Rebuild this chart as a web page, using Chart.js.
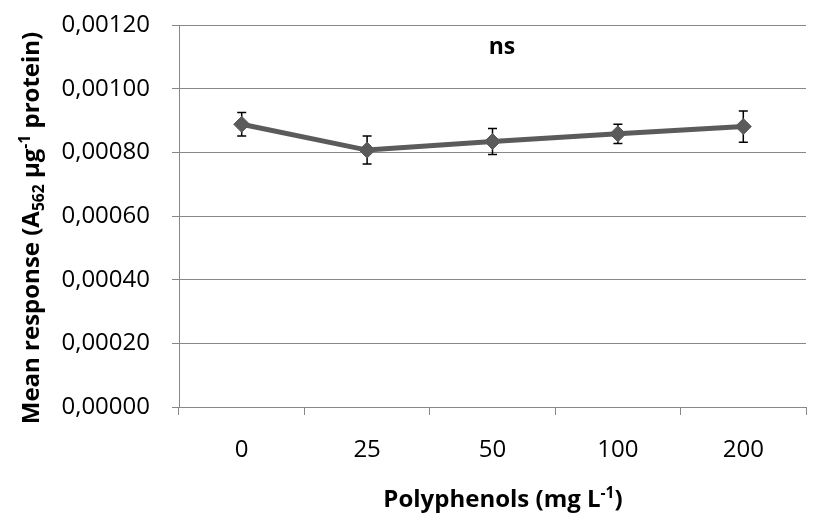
<!DOCTYPE html>
<html>
<head>
<meta charset="utf-8">
<script src="https://cdn.jsdelivr.net/npm/chart.js@4.4.0/dist/chart.umd.min.js"></script>
<style>
  html, body { margin: 0; padding: 0; background: #fff; }
  #box { width: 815px; height: 515px; }
</style>
</head>
<body>
<div id="box"><canvas id="responseChart"></canvas></div>
<script>
// データ
let doses = ['0', '25', '50', '100', '200'];
let meanResponse = [0.000888, 0.000807, 0.000834, 0.000858, 0.000881];
let errResponse = [0.000037, 0.000044, 0.000041, 0.000030, 0.000049];
let yTicks = [0, 0.0002, 0.0004, 0.0006, 0.0008, 0.0010, 0.0012];

let gridGray = '#888888';
let lineGray = '#5b5b5b';
let fontName = "'Open Sans', 'Liberation Sans', sans-serif";

// 上付き・下付きを含む文字列を描く関数。parts = [[文字, 'n'|'sub'|'sup'], ...]
let drawRichText = function(ctx, parts, size) {
  let total = 0;
  parts.forEach(function(p) {
    let s = p[1] == 'n' ? size : size * 0.65;
    ctx.font = 'bold ' + s + 'px ' + fontName;
    total += ctx.measureText(p[0]).width;
  });
  let x = -total / 2;
  parts.forEach(function(p) {
    let s = p[1] == 'n' ? size : size * 0.65;
    let dy = 0;
    if (p[1] == 'sub') { dy = size * 0.22; }
    if (p[1] == 'sup') { dy = -size * 0.38; }
    ctx.font = 'bold ' + s + 'px ' + fontName;
    ctx.fillText(p[0], x, dy);
    x += ctx.measureText(p[0]).width;
  });
};

// エラーバー
let errorBars = {
  id: 'errorBars',
  beforeDatasetsDraw: function(chart) {
    let ctx = chart.ctx;
    let y = chart.scales.y;
    let meta = chart.getDatasetMeta(0);
    ctx.save();
    ctx.strokeStyle = '#000';
    ctx.lineWidth = 1.5;
    for (let i = 0; i < meanResponse.length; i++) {
      let px = meta.data[i].x;
      let top = y.getPixelForValue(meanResponse[i] + errResponse[i]);
      let bot = y.getPixelForValue(meanResponse[i] - errResponse[i]);
      ctx.beginPath();
      ctx.moveTo(px, top); ctx.lineTo(px, bot);
      ctx.moveTo(px - 4.5, top); ctx.lineTo(px + 4.5, top);
      ctx.moveTo(px - 4.5, bot); ctx.lineTo(px + 4.5, bot);
      ctx.stroke();
    }
    ctx.restore();
  }
};

// 軸タイトルと "ns"
let labels = {
  id: 'labels',
  afterDraw: function(chart) {
    let ctx = chart.ctx;
    let area = chart.chartArea;
    ctx.save();
    ctx.fillStyle = '#000';
    ctx.textBaseline = 'alphabetic';
    ctx.textAlign = 'left';
    // x軸タイトル
    ctx.save();
    ctx.translate(503, 507);
    drawRichText(ctx, [['Polyphenols (mg L', 'n'], ['-1', 'sup'], [')', 'n']], 24);
    ctx.restore();
    // y軸タイトル
    ctx.save();
    ctx.translate(39, 228);
    ctx.rotate(-Math.PI / 2);
    drawRichText(ctx, [['Mean response (A', 'n'], ['562', 'sub'], [' µg', 'n'], ['-1', 'sup'], [' protein)', 'n']], 24);
    ctx.restore();
    // ns
    ctx.font = 'bold 23px ' + fontName;
    ctx.textAlign = 'center';
    ctx.fillText('ns', area.left + (area.right - area.left) * 0.515, 54);
    ctx.restore();
  }
};

let chart = new Chart(document.getElementById('responseChart'), {
  type: 'line',
  data: {
    labels: doses,
    datasets: [{
      data: meanResponse,
      borderColor: lineGray,
      backgroundColor: lineGray,
      borderWidth: 5,
      pointStyle: 'rectRot',
      pointRadius: 8,
      pointBorderWidth: 1,
      pointBackgroundColor: lineGray,
      pointBorderColor: lineGray,
      tension: 0
    }]
  },
  options: {
    responsive: true,
    maintainAspectRatio: false,
    animation: false,
    layout: { padding: { top: 25, right: 5, left: 0, bottom: 0 } },
    plugins: { legend: { display: false }, tooltip: { enabled: false } },
    scales: {
      x: {
        offset: true,
        grid: { offset: true, drawOnChartArea: false, drawTicks: true, tickLength: 8, color: gridGray, lineWidth: 1 },
        border: { display: true, color: gridGray, width: 1 },
        ticks: { color: '#000', padding: 21, font: { family: fontName, size: 24 } },
        afterFit: function(scale) { scale.height = 108; }
      },
      y: {
        min: 0,
        max: 0.0012,
        afterBuildTicks: function(scale) { scale.ticks = yTicks.map(function(v) { return { value: v }; }); },
        grid: { color: gridGray, lineWidth: 1, tickLength: 7 },
        border: { display: true, color: gridGray, width: 1 },
        ticks: {
          color: '#000',
          padding: 22,
          font: { family: fontName, size: 24 },
          callback: function(v) { return Number(v).toFixed(5).replace('.', ','); }
        },
        afterFit: function(scale) {
          scale.width = 179;
          scale.paddingTop = 0;
          scale.paddingBottom = 0;
        }
      }
    }
  },
  plugins: [errorBars, labels]
});
</script>
</body>
</html>
